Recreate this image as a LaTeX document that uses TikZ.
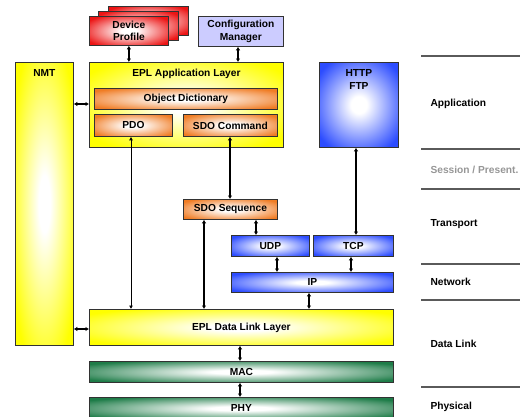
\documentclass[tikz,border=0pt]{standalone}
\usepackage{fontspec}
\setmainfont{Liberation Sans}
\usetikzlibrary{arrows.meta}
\definecolor{eplyellow}{RGB}{255,255,0}
\definecolor{eplorange}{RGB}{240,124,36}
\definecolor{eplblue}{RGB}{44,76,255}
\definecolor{eplgreen}{RGB}{30,124,72}
\definecolor{eplred}{RGB}{236,20,20}
\definecolor{epllav}{RGB}{204,204,255}
\definecolor{eplborder}{RGB}{50,50,50}
\definecolor{eplline}{RGB}{90,90,90}
\definecolor{eplgray}{RGB}{150,150,150}
\colorlet{outercol}{yellow}
\pgfdeclareradialshading[outercol]{eplrad}{\pgfpoint{0bp}{0bp}}{color(0bp)=(white); color(5bp)=(white); color(31bp)=(outercol); color(50bp)=(outercol)}
\begin{document}
\begin{tikzpicture}[x=1pt,y=-1pt,
  font=\fontsize{10.2}{12.5}\selectfont\bfseries,
  box/.style={draw=eplborder, line width=0.8pt, inner sep=0pt, anchor=north west, align=center},
  shadedbox/.style={box, shading=eplrad, /utils/exec={\colorlet{outercol}{#1}}},
  title/.style={anchor=north, align=center},
  dar/.style={{Latex[length=3.5pt,width=4.5pt]}-{Latex[length=3.5pt,width=4.5pt]}, line width=1.5pt},
  tar/.style={{Latex[length=3.5pt,width=4pt]}-{Latex[length=3.5pt,width=4pt]}, line width=0.8pt},
  mar/.style={{Latex[length=3.5pt,width=4.5pt]}-{Latex[length=3.5pt,width=4.5pt]}, line width=1.2pt},
  osi/.style={draw=eplline, line width=1.2pt},
  osilabel/.style={anchor=west}
]
\clip (0,0) rectangle (520,416);
\useasboundingbox (0,0) rectangle (520,416);

% Device profile stack
\node[shadedbox=eplred, minimum width=80pt, minimum height=29pt] (dp3) at (108,6) {};
\node[shadedbox=eplred, minimum width=80pt, minimum height=29pt] (dp2) at (98,11) {};
\node[shadedbox=eplred, minimum width=79pt, minimum height=29pt] (dp) at (89,16) {Device\\Profile};
\node[box, fill=epllav, minimum width=85pt, minimum height=30pt] (cfg) at (198,16) {Configuration\\Manager};

% NMT
\node[shadedbox=eplyellow, minimum width=58pt, minimum height=283pt] (nmt) at (15,62) {};
\node[title] (nmtt) at ([yshift=-4pt]nmt.north) {NMT};

% Application layer
\node[shadedbox=eplyellow, minimum width=194pt, minimum height=85pt] (app) at (89,62) {};
\node[title] (appt) at ([yshift=-4pt]app.north) {EPL Application Layer};
\node[shadedbox=eplorange, minimum width=183pt, minimum height=21pt] (od) at (94,88) {Object Dictionary};
\node[shadedbox=eplorange, minimum width=78pt, minimum height=22pt] (pdo) at (94,114) {PDO};
\node[shadedbox=eplorange, minimum width=94pt, minimum height=22pt] (sdoc) at (183,114) {SDO Command};

% HTTP FTP
\node[shadedbox=eplblue, minimum width=79pt, minimum height=85pt] (http) at (319,62) {};
\node[title] (httpt) at ([yshift=-4pt]http.north) {HTTP\\FTP};

% Transport / network
\node[shadedbox=eplorange, minimum width=94pt, minimum height=20pt] (sdos) at (183,199) {SDO Sequence};
\node[shadedbox=eplblue, minimum width=78pt, minimum height=21pt] (udp) at (231,235) {UDP};
\node[shadedbox=eplblue, minimum width=80pt, minimum height=21pt] (tcp) at (313,235) {TCP};
\node[shadedbox=eplblue, minimum width=162pt, minimum height=20pt] (ip) at (231,272) {IP};

% Data link / physical
\node[shadedbox=eplyellow, minimum width=304pt, minimum height=36pt] (dll) at (89,309) {EPL Data Link Layer};
\node[shadedbox=eplgreen, minimum width=304pt, minimum height=21pt] (mac) at (89,361) {MAC};
\node[shadedbox=eplgreen, minimum width=304pt, minimum height=22pt] (phy) at (89,397) {PHY};

% Connectors
\draw[dar] (dp.south) -- (dp.south |- app.north);
\draw[dar] (cfg.south -| 238,0) -- (app.north -| 238,0);
\draw[dar] (nmt.east |- 0,104) -- (app.west |- 0,104);
\draw[dar] (nmt.east |- 0,329) -- (dll.west |- 0,329);
\draw[tar] (pdo.south -| 131,0) -- (dll.north -| 131,0);
\draw[dar] (sdoc.south -| 230,0) -- (sdos.north -| 230,0);
\draw[mar] (sdos.south -| 204,0) -- (dll.north -| 204,0);
\draw[dar] (sdos.south -| 256,0) -- (udp.north -| 256,0);
\draw[mar] (http.south -| 356,0) -- (tcp.north -| 356,0);
\draw[dar] (udp.south -| 277,0) -- (ip.north -| 277,0);
\draw[dar] (tcp.south -| 351,0) -- (ip.north -| 351,0);
\draw[dar] (ip.south -| 309,0) -- (dll.north -| 309,0);
\draw[dar] (dll.south -| 240,0) -- (mac.north -| 240,0);
\draw[dar] (mac.south -| 240,0) -- (phy.north -| 240,0);

% OSI layer lines
\draw[osi] (421,56) -- (520,56);
\draw[osi] (421,149) -- (520,149);
\draw[osi] (421,189) -- (520,189);
\draw[osi] (421,264) -- (520,264);
\draw[osi] (421,300) -- (520,300);
\draw[osi] (421,387) -- (520,387);

\node[osilabel] (lapp) at (427,104) {Application};
\node[osilabel, text=eplgray] (lses) at (427,170) {Session / Present.};
\node[osilabel] (ltra) at (427,224) {Transport};
\node[osilabel] (lnet) at (427,282) {Network};
\node[osilabel] (ldl) at (427,344) {Data Link};
\node[osilabel] (lphy) at (427,407) {Physical};
\end{tikzpicture}
\end{document}
